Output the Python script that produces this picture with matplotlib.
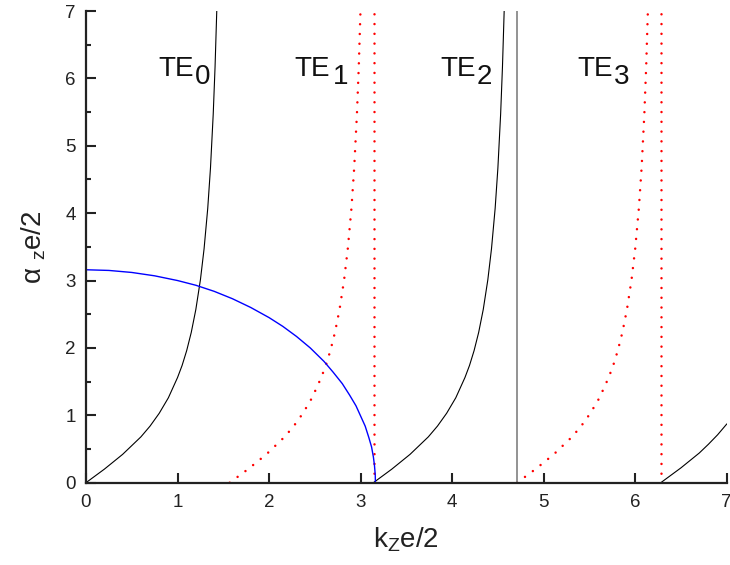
import matplotlib
matplotlib.use('Agg')
import matplotlib.pyplot as plt

plt.rcParams['font.family'] = ['Liberation Sans', 'DejaVu Sans']
plt.rcParams['mathtext.fontset'] = 'custom'
plt.rcParams['mathtext.rm'] = 'Liberation Sans'
plt.rcParams['mathtext.it'] = 'Liberation Sans:italic'

# TE0 / TE2 / TE4 branches (black, solid)
te0_x = [0, 0.1, 0.2, 0.3, 0.4, 0.5, 0.6, 0.7, 0.8, 0.9, 1.0, 1.05, 1.1, 1.15,
         1.2, 1.25, 1.29, 1.33, 1.36, 1.39, 1.41, 1.43]
te0_y = [0, 0.10, 0.20, 0.31, 0.42, 0.55, 0.68, 0.84, 1.03, 1.26, 1.56, 1.74,
         1.96, 2.23, 2.57, 3.01, 3.47, 4.07, 4.67, 5.47, 6.17, 7.06]
te2_x = [3.14, 3.24, 3.34, 3.44, 3.54, 3.64, 3.74, 3.84, 3.94, 4.04, 4.14, 4.19,
         4.24, 4.29, 4.34, 4.39, 4.43, 4.47, 4.50, 4.53, 4.55, 4.57]
te2_y = [0, 0.10, 0.20, 0.31, 0.42, 0.55, 0.68, 0.84, 1.03, 1.26, 1.56, 1.74,
         1.96, 2.23, 2.57, 3.01, 3.47, 4.07, 4.67, 5.47, 6.17, 7.06]
te4_x = [6.28, 6.4, 6.5, 6.6, 6.7, 6.8, 6.9, 7.0]
te4_y = [0, 0.12, 0.22, 0.33, 0.44, 0.57, 0.71, 0.87]

# TE1 / TE3 branches (red, dotted)
te1_x = [1.57, 1.67, 1.77, 1.87, 1.97, 2.07, 2.17, 2.27, 2.37, 2.47, 2.57, 2.62,
         2.67, 2.72, 2.77, 2.82, 2.86, 2.90, 2.93, 2.96, 2.98, 3.00]
te1_y = [0, 0.10, 0.20, 0.31, 0.42, 0.55, 0.68, 0.84, 1.03, 1.26, 1.56, 1.74,
         1.96, 2.23, 2.57, 3.01, 3.47, 4.07, 4.67, 5.47, 6.17, 7.06]
te3_x = [4.71, 4.81, 4.91, 5.01, 5.11, 5.21, 5.31, 5.41, 5.51, 5.61, 5.71, 5.76,
         5.81, 5.86, 5.91, 5.96, 6.00, 6.04, 6.07, 6.10, 6.12, 6.14]
te3_y = [0, 0.10, 0.20, 0.31, 0.42, 0.55, 0.68, 0.84, 1.03, 1.26, 1.56, 1.74,
         1.96, 2.23, 2.57, 3.01, 3.47, 4.07, 4.67, 5.47, 6.17, 7.06]

# circle (blue)
circ_x = [0, 0.25, 0.5, 0.75, 1.0, 1.2, 1.4, 1.6, 1.8, 2.0, 2.15, 2.3, 2.45,
          2.6, 2.7, 2.8, 2.88, 2.95, 3.0, 3.05, 3.09, 3.12, 3.14, 3.152, 3.16, 3.162]
circ_y = [3.16, 3.15, 3.12, 3.07, 3.00, 2.93, 2.84, 2.73, 2.60, 2.45, 2.32, 2.17,
          2.00, 1.80, 1.64, 1.47, 1.30, 1.14, 0.99, 0.84, 0.67, 0.53, 0.38, 0.25,
          0.12, 0]

# vertical asymptotes
red_vlines = [3.147, 6.283]
gray_vlines = [4.712]

labels = ['0', '1', '2', '3']
label_x = [0.79, 2.28, 3.87, 5.37]
sub_x = [1.19, 2.70, 4.27, 5.77]

fig = plt.figure(figsize=(7.3, 5.65), dpi=100)
ax = fig.add_axes([0.1178, 0.1457, 0.8777, 0.8348])

dots = dict(color='#ff0000', lw=1.8, linestyle=(0, (0.01, 3.9)),
            dash_capstyle='round')
ax.plot(te0_x, te0_y, color='black', lw=0.8)
ax.plot(te2_x, te2_y, color='black', lw=0.8)
ax.plot(te4_x, te4_y, color='black', lw=0.8)
ax.plot(te1_x, te1_y, **dots)
ax.plot(te3_x, te3_y, **dots)
for xv in red_vlines:
    ax.plot([xv, xv], [0, 7], **dots)
for xv in gray_vlines:
    ax.plot([xv, xv], [0, 7], color='#808080', lw=1.2)
ax.plot(circ_x, circ_y, color='#0000ff', lw=1.0)

for i in range(4):
    ax.text(label_x[i], 6.03, 'TE', fontsize=20, va='baseline', ha='left',
            color='#111111')
    ax.text(sub_x[i], 5.92, labels[i], fontsize=20, va='baseline', ha='left',
            color='#111111')

ax.set_xlim(0, 7)
ax.set_ylim(0, 7)
ax.set_xticks(range(8))
ax.set_yticks(range(8))
ax.set_yticks([i + 0.5 for i in range(7)], minor=True)
ax.spines['top'].set_visible(False)
ax.spines['right'].set_visible(False)
for s in ['left', 'bottom']:
    ax.spines[s].set_linewidth(1.6)
    ax.spines[s].set_color('#222222')
ax.tick_params(which='major', direction='in', length=7, width=1.5,
               labelsize=13.5, colors='#222222', pad=8.5)
ax.tick_params(which='minor', direction='in', length=3.6, width=1.5,
               colors='#222222')
ax.tick_params(axis='y', pad=7.5)

ax.set_xlabel('k$_\\mathregular{Z}$e/2', fontsize=20, labelpad=10, color='#222222')
ax.set_ylabel('α $_\\mathregular{z}$e/2', fontsize=20, labelpad=12, color='#222222')

fig.savefig('out.png', dpi=100)
